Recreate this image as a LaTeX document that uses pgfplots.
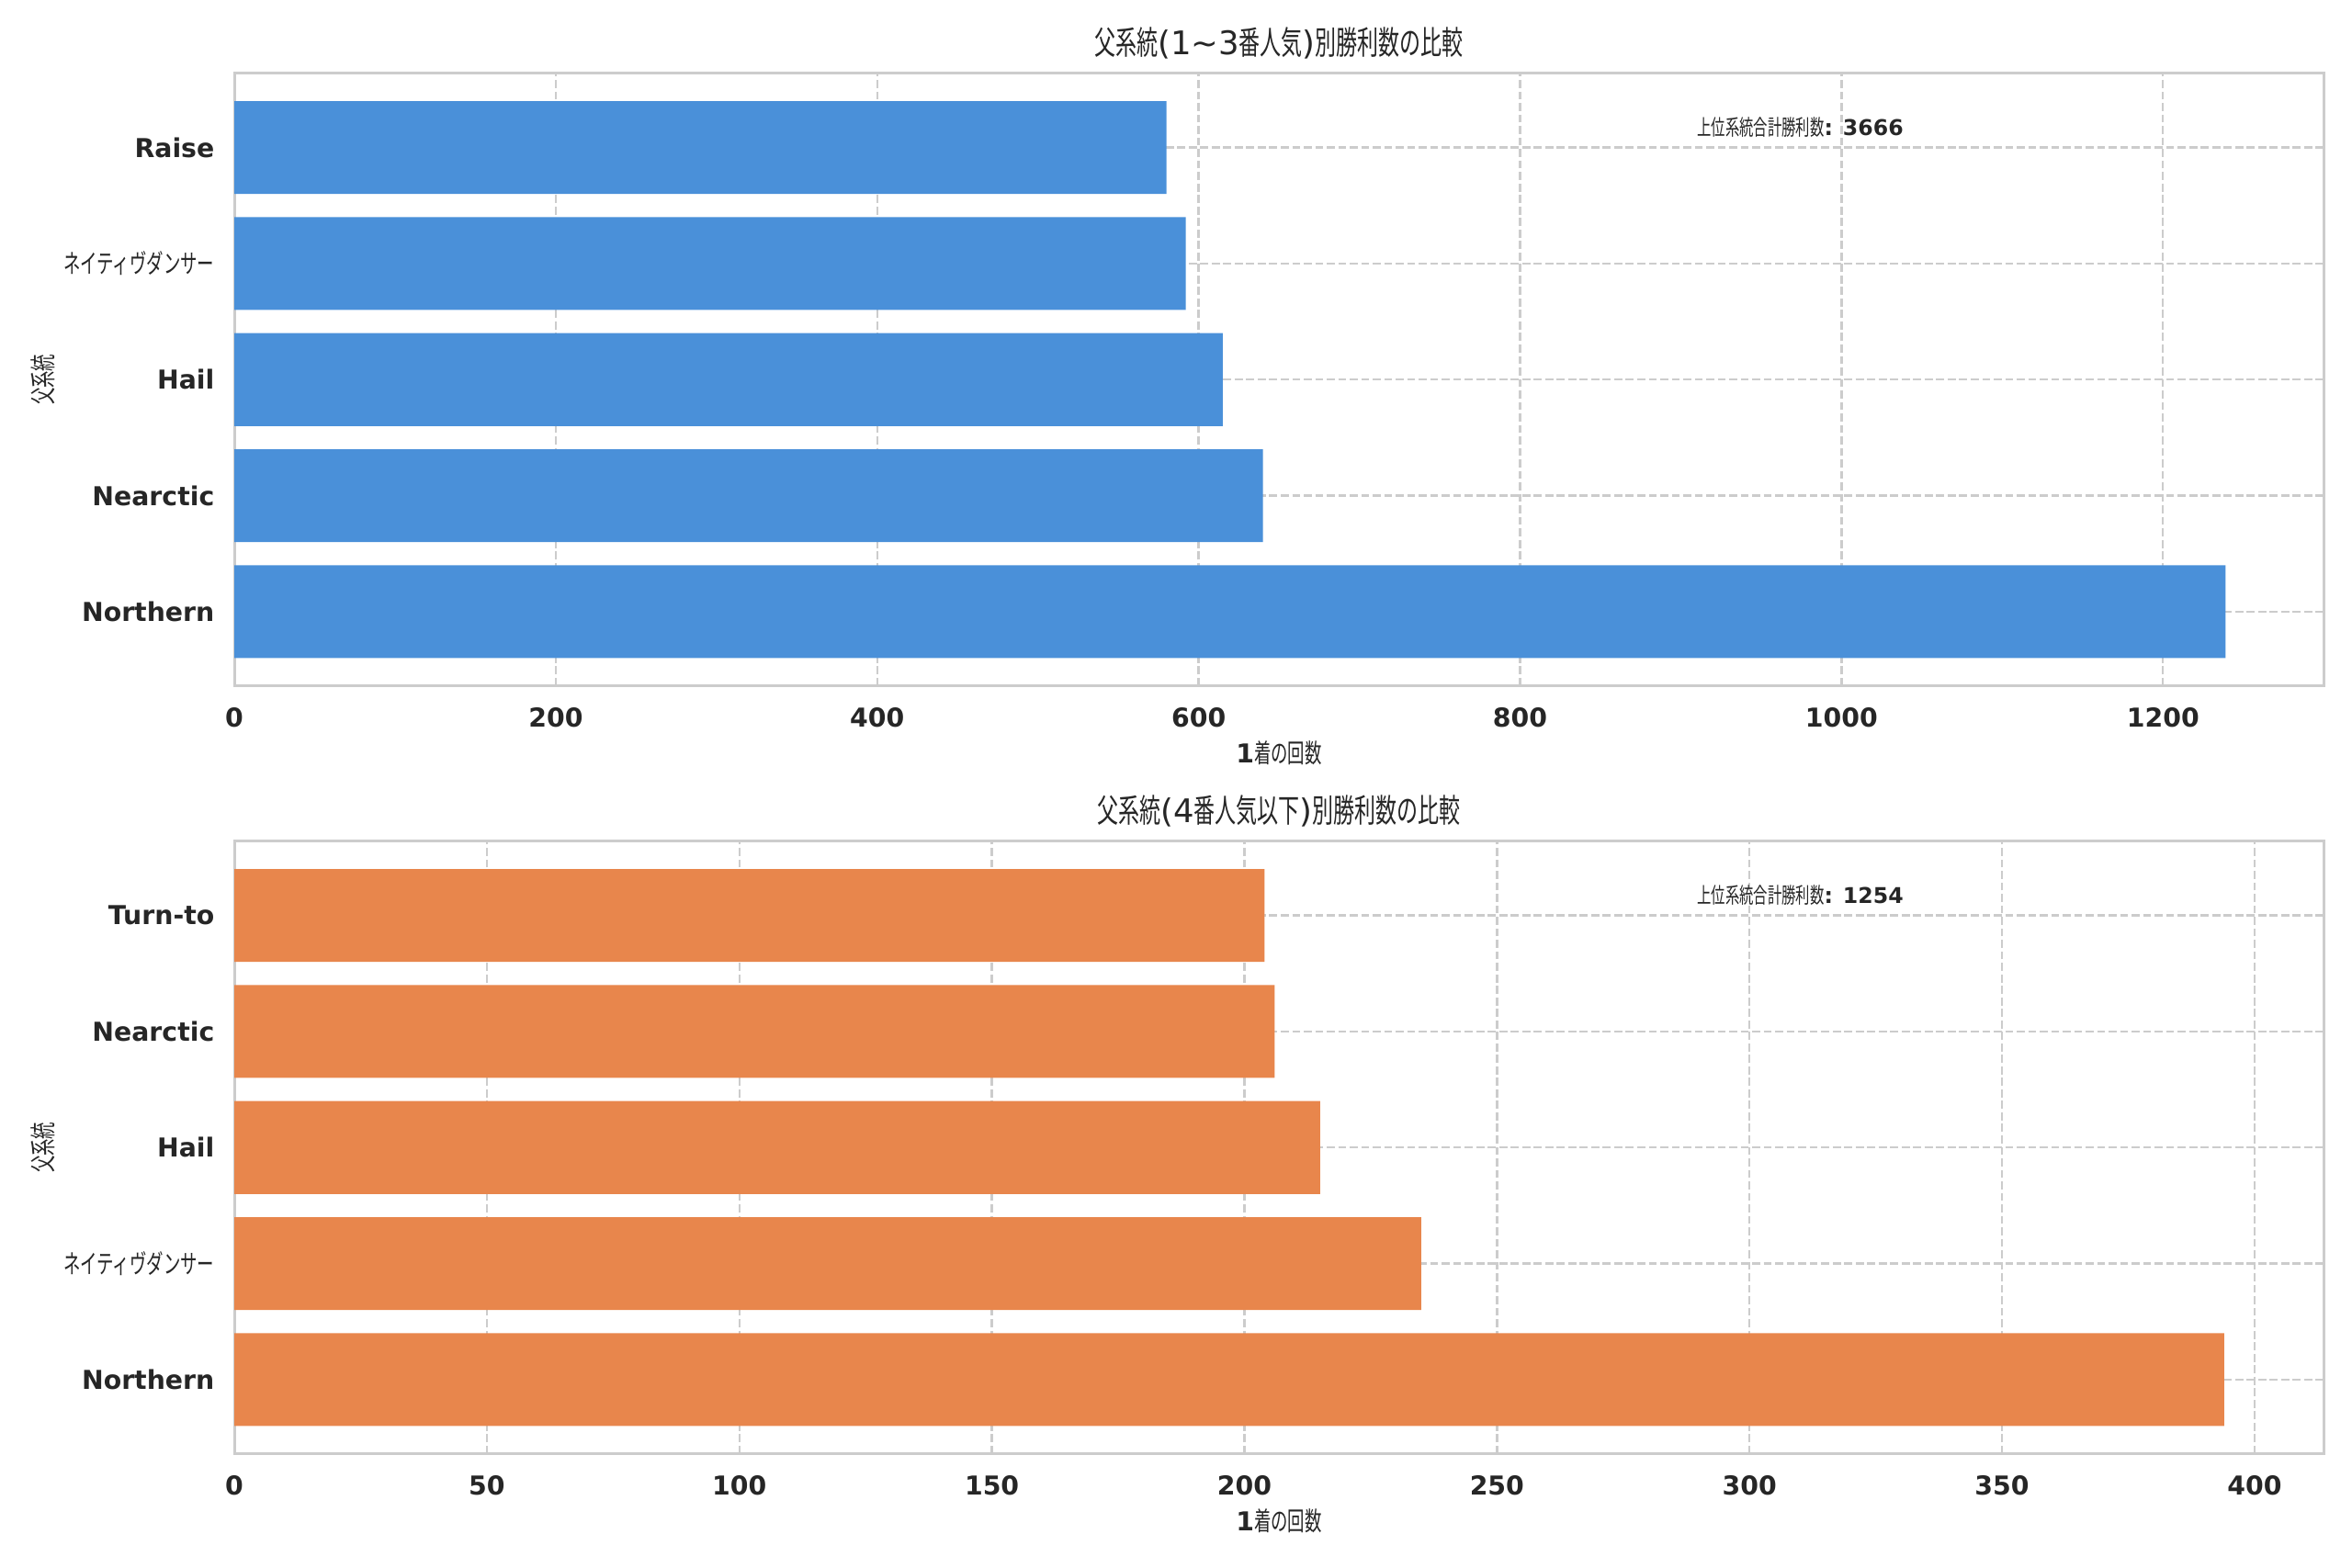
\documentclass[border=0pt]{standalone}
\usepackage{fontspec}
\setmainfont{DejaVu Sans}
\newfontfamily\jp[FakeStretch=0.65]{Noto Sans CJK JP}
\usepackage{pgfplots}
\pgfplotsset{compat=1.18}
\definecolor{barblue}{HTML}{4A90D9}
\definecolor{barorange}{HTML}{E8864C}
\definecolor{gridc}{HTML}{CCCCCC}
\definecolor{txt}{HTML}{262626}
\pgfplotsset{mystyle/.style={
  scale only axis, width=963pt, height=282.4pt,
  anchor=south west,
  xbar, bar width=0.8, xmin=0, ymin=-0.64, ymax=4.64,
  ytick={0,1,2,3,4},
  axis line style={gridc, line width=1.25pt},
  major tick length=0pt,
  xmajorgrids, ymajorgrids,
  major grid style={gridc, line width=1pt, dash pattern=on 3.7pt off 1.6pt},
  tick label style={font=\fontsize{12}{14}\selectfont\bfseries, text=txt, inner sep=0pt},
  xticklabel style={anchor=center, yshift=-14.4pt},
  yticklabel style={anchor=east, xshift=-9pt},
  /pgf/number format/assume math mode=true,
  /pgf/number format/1000 sep={},
  xlabel style={font=\fontsize{12}{14}\selectfont\bfseries, text=txt, at={(axis description cs:0.5,0)}, anchor=center, yshift=-31pt},
  ylabel style={font=\fontsize{12}{14}\selectfont, text=txt, at={(axis description cs:-0.0914,0.5)}, anchor=center},
  title style={font=\fontsize{15}{18}\selectfont, text=txt, at={(axis description cs:0.5,1)}, anchor=center, yshift=8pt},
  axis on top=false,
}}
\begin{document}
\begin{tikzpicture}
\path[use as bounding box] (0,0) rectangle (1084.05pt,722.7pt);
\begin{axis}[mystyle, at={(108pt,406.5pt)},
  xmax=1300, xtick={0,200,400,600,800,1000,1200},
  yticklabels={Northern,Nearctic,Hail,{\jp\mdseries ネイティヴダンサー},Raise},
  title={{\jp 父系統}(1\textasciitilde3{\jp 番人気})\jp 別勝利数の比較},
  xlabel={1{\jp\mdseries 着の回数}},
  ylabel={\jp 父系統}]
\addplot[fill=barblue, draw=none] coordinates {(1239,0) (640,1) (615,2) (592,3) (580,4)};
\node[anchor=west, font=\fontsize{10}{12}\selectfont\bfseries, text=txt, inner sep=0pt] at (rel axis cs:0.7,0.912) {{\jp\mdseries 上位系統合計勝利数}: 3666};
\end{axis}
\begin{axis}[mystyle, at={(108pt,52.5pt)},
  xmax=413.7, xtick={0,50,100,150,200,250,300,350,400},
  yticklabels={Northern,{\jp\mdseries ネイティヴダンサー},Hail,Nearctic,Turn-to},
  title={{\jp 父系統}(4{\jp 番人気以下})\jp 別勝利数の比較},
  xlabel={1{\jp\mdseries 着の回数}},
  ylabel={\jp 父系統}]
\addplot[fill=barorange, draw=none] coordinates {(394,0) (235,1) (215,2) (206,3) (204,4)};
\node[anchor=west, font=\fontsize{10}{12}\selectfont\bfseries, text=txt, inner sep=0pt] at (rel axis cs:0.7,0.912) {{\jp\mdseries 上位系統合計勝利数}: 1254};
\end{axis}
\end{tikzpicture}
\end{document}
